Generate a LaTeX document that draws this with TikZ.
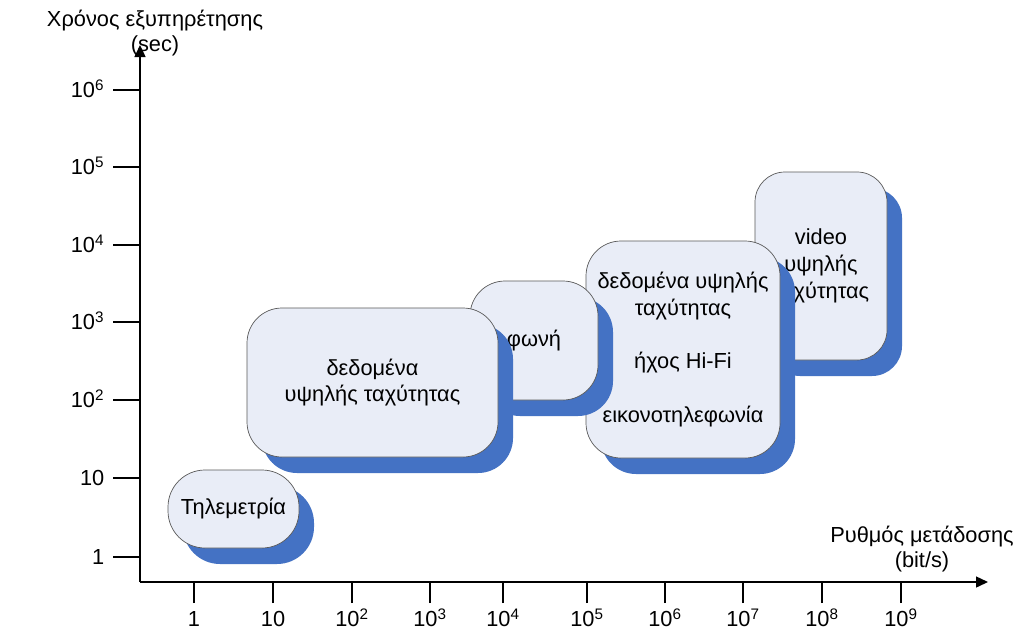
\documentclass[tikz,border=0pt]{standalone}
\usepackage{fontspec}
\setmainfont{Liberation Sans}
\usetikzlibrary{arrows.meta, shadows}

\definecolor{boxfill}{RGB}{233,237,247}
\definecolor{boxshadow}{RGB}{68,114,196}
\definecolor{boxline}{RGB}{90,90,90}

\begin{document}
\begin{tikzpicture}[
    x=0.25mm, y=-0.25mm,
    font=\fontsize{15.5}{18}\selectfont,
    axis/.style={line width=1pt, -{Triangle[length=3mm, width=2.75mm]}},
    tick/.style={line width=0.8pt},
    every label/.style={text height=10.5pt, text depth=0pt, inner sep=0pt},
    label distance=6pt,
    box/.style={draw=boxline, line width=0.5pt, fill=boxfill, rounded corners=8.75mm,
        align=center, inner sep=0pt, font=\fontsize{15.5}{19}\selectfont,
        drop shadow={shadow xshift=3.75mm, shadow yshift=-4mm, fill=boxshadow, opacity=1}}
]
    \path[use as bounding box, fill=white] (0,0) rectangle (1024,635);

    % Eixos
    \node[align=center] (ylab) at (155,33) {Χρόνος εξυπηρέτησης\\(sec)};
    \node[align=center] (xlab) at (922,549) {Ρυθμός μετάδοσης\\(bit/s)};

    \coordinate (o) at (140,582);
    \coordinate (ytop) at (140,45);
    \coordinate (xend) at (988,582);
    \draw[axis] (o) -- (ytop);
    \draw[axis] (o) -- (xend);

    % Χρόνος
    \coordinate[label=left:{1}] (y0) at (113,557);
    \coordinate[label=left:{10}] (y1) at (113,478);
    \coordinate[label=left:{10\textsuperscript{2}}] (y2) at (113,400);
    \coordinate[label=left:{10\textsuperscript{3}}] (y3) at (113,322);
    \coordinate[label=left:{10\textsuperscript{4}}] (y4) at (113,245);
    \coordinate[label=left:{10\textsuperscript{5}}] (y5) at (113,167);
    \coordinate[label=left:{10\textsuperscript{6}}] (y6) at (113,90);
    \draw[tick] (y0) -- (o |- y0);
    \draw[tick] (y1) -- (o |- y1);
    \draw[tick] (y2) -- (o |- y2);
    \draw[tick] (y3) -- (o |- y3);
    \draw[tick] (y4) -- (o |- y4);
    \draw[tick] (y5) -- (o |- y5);
    \draw[tick] (y6) -- (o |- y6);

    % Ρυθμός
    \coordinate[label=below:{1}] (x0) at (194,603);
    \coordinate[label=below:{10}] (x1) at (273,603);
    \coordinate[label=below:{10\textsuperscript{2}}] (x2) at (352,603);
    \coordinate[label=below:{10\textsuperscript{3}}] (x3) at (430,603);
    \coordinate[label=below:{10\textsuperscript{4}}] (x4) at (503,603);
    \coordinate[label=below:{10\textsuperscript{5}}] (x5) at (587,603);
    \coordinate[label=below:{10\textsuperscript{6}}] (x6) at (665,603);
    \coordinate[label=below:{10\textsuperscript{7}}] (x7) at (743,603);
    \coordinate[label=below:{10\textsuperscript{8}}] (x8) at (822,603);
    \coordinate[label=below:{10\textsuperscript{9}}] (x9) at (901,603);
    \draw[tick] (x0) -- (x0 |- o);
    \draw[tick] (x1) -- (x1 |- o);
    \draw[tick] (x2) -- (x2 |- o);
    \draw[tick] (x3) -- (x3 |- o);
    \draw[tick] (x4) -- (x4 |- o);
    \draw[tick] (x5) -- (x5 |- o);
    \draw[tick] (x6) -- (x6 |- o);
    \draw[tick] (x7) -- (x7 |- o);
    \draw[tick] (x8) -- (x8 |- o);
    \draw[tick] (x9) -- (x9 |- o);

    % Υπηρεσίες
    \node[box, minimum width=33mm, minimum height=47mm, rounded corners=7.5mm] (video) at (821,266)
        {video\\υψηλής\\ταχύτητας};
    \node[box, minimum width=48.5mm, minimum height=54.25mm] (hifi) at (683,349.5)
        {δεδομένα υψηλής\\ταχύτητας\\[19pt]ήχος Hi-Fi\\[19pt]εικονοτηλεφωνία};
    \node[box, minimum width=32mm, minimum height=29.75mm] (voice) at (534,340.5) {φωνή};
    \node[box, minimum width=62.75mm, minimum height=37.25mm] (data) at (372.5,382.5)
        {δεδομένα\\υψηλής ταχύτητας};
    \node[box, minimum width=32.75mm, minimum height=19.5mm, rounded corners=9.25mm] (tele) at (233.5,509)
        {Τηλεμετρία};

\end{tikzpicture}
\end{document}
